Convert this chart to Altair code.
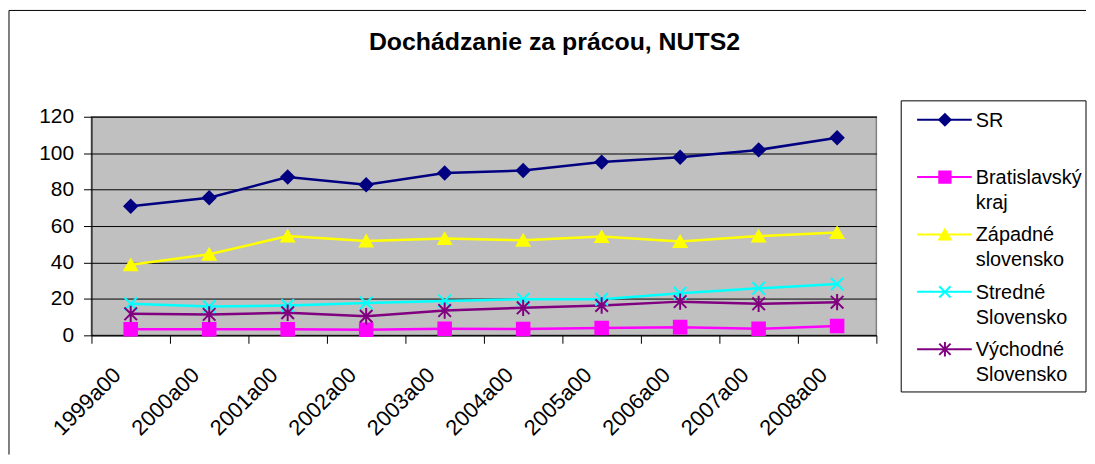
import altair as alt
import pandas as pd

years = ["1999a00", "2000a00", "2001a00", "2002a00", "2003a00",
         "2004a00", "2005a00", "2006a00", "2007a00", "2008a00"]
series = ["SR", "Bratislavský kraj", "Západné slovensko",
          "Stredné Slovensko", "Východné Slovensko"]
legend_labels = ["SR", "Bratislavský\nkraj", "Západné\nslovensko",
                 "Stredné\nSlovensko", "Východné\nSlovensko"]

sr = [70.9, 75.5, 86.9, 82.7, 89.1, 90.5, 95.1, 97.8, 101.8, 108.5]
ba = [3.3, 3.3, 3.3, 3.1, 3.6, 3.5, 4.0, 4.5, 3.6, 5.1]
zs = [38.7, 44.5, 54.5, 51.8, 53.1, 52.2, 54.2, 51.5, 54.5, 56.4]
ss = [17.3, 15.8, 16.4, 17.8, 18.9, 19.8, 19.8, 23.1, 25.8, 28.2]
vs = [11.8, 11.5, 12.4, 10.5, 13.6, 15.1, 16.4, 18.5, 17.3, 18.2]

colors = ["#000080", "#FF00FF", "#FFFF00", "#00FFFF", "#800080"]
shapes = ["diamond", "square", "triangle-up",
          "M-1,-1L1,1M-1,1L1,-1",
          "M-1,-1L1,1M-1,1L1,-1M0,-1.3L0,1.3"]

FONT = "Liberation Sans"

rows = []
for name, vals in zip(series, [sr, ba, zs, ss, vs]):
    for y, v in zip(years, vals):
        rows.append({"year": y, "value": v, "series": name})
df = pd.DataFrame(rows)
leg = pd.DataFrame({"series": series, "label": legend_labels})
one = pd.DataFrame({"k": [0]})

color_scale = alt.Scale(domain=series, range=colors)
shape_scale = alt.Scale(domain=series, range=shapes)

x_enc = alt.X("year:N", sort=years, title=None,
              scale=alt.Scale(type="band", paddingInner=0, paddingOuter=0),
              axis=alt.Axis(labelAngle=-45, labelAlign="right", labelBaseline="middle",
                            labelOffset=-14, labelPadding=28, tickSize=8,
                            tickBand="extent", grid=False, labelFontSize=22))
y_enc = alt.Y("value:Q", title=None,
              scale=alt.Scale(domain=[0, 120], nice=False),
              axis=alt.Axis(values=[0, 20, 40, 60, 80, 100, 120], tickSize=8,
                            labelPadding=10, grid=True, labelFontSize=21))

lines = alt.Chart(df).mark_line(strokeWidth=2.5).encode(
    x=x_enc, y=y_enc,
    color=alt.Color("series:N", scale=color_scale, legend=None),
    detail="series:N",
)
points = alt.Chart(df).mark_point(filled=True, size=160, strokeWidth=2, opacity=1).encode(
    x=x_enc, y=y_enc,
    color=alt.Color("series:N", scale=color_scale, legend=None),
    stroke=alt.Stroke("series:N", scale=color_scale, legend=None),
    shape=alt.Shape("series:N", scale=shape_scale, legend=None),
)
main = alt.layer(lines, points)

leg_y = alt.Y("series:N", sort=series, axis=None,
              scale=alt.Scale(type="point", domain=series, range=[3, 234], padding=0))

box = alt.Chart(one).mark_rect(fill="white", stroke="black", strokeWidth=1).encode(
    x=alt.value(815), x2=alt.value(1001), y=alt.value(-16), y2=alt.value(277))
leg_rule = alt.Chart(leg).mark_rule(strokeWidth=2).encode(
    x=alt.value(831), x2=alt.value(886), y=leg_y,
    color=alt.Color("series:N", scale=color_scale, legend=None))
leg_pt = alt.Chart(leg).mark_point(filled=True, size=130, strokeWidth=2, opacity=1).encode(
    x=alt.value(859), y=leg_y,
    color=alt.Color("series:N", scale=color_scale, legend=None),
    stroke=alt.Stroke("series:N", scale=color_scale, legend=None),
    shape=alt.Shape("series:N", scale=shape_scale, legend=None))
leg_txt = alt.Chart(leg).mark_text(align="left", baseline="alphabetic", dy=7,
                                   lineBreak="\n", lineHeight=25, fontSize=20,
                                   font=FONT, color="black").encode(
    x=alt.value(890), y=leg_y, text="label:N")
legend = alt.layer(box, leg_rule, leg_pt, leg_txt)

border_left = alt.Chart(one).mark_rule(color="black", strokeWidth=1).encode(
    x=alt.value(-83), y=alt.value(-107), y2=alt.value(340))
border_top = alt.Chart(one).mark_rule(color="black", strokeWidth=1).encode(
    x=alt.value(-83), x2=alt.value(1001), y=alt.value(-107))

chart = alt.layer(border_left, border_top, main, legend).resolve_scale(
    y="independent"
).properties(
    width=790, height=220, padding=0, background="white",
    title=alt.TitleParams("Dochádzanie za prácou, NUTS2", fontSize=25, fontWeight="bold",
                          font=FONT, anchor="middle", dx=71, offset=-45, color="black"),
).configure_view(
    fill="#C0C0C0", stroke="#808080", strokeWidth=1.5
).configure_axis(
    domainColor="black", tickColor="black", gridColor="black", labelColor="black",
    labelFont=FONT, domainWidth=1, tickWidth=1, gridWidth=1
)

chart.save("out.html", embed_options={"renderer": "svg", "actions": False})
